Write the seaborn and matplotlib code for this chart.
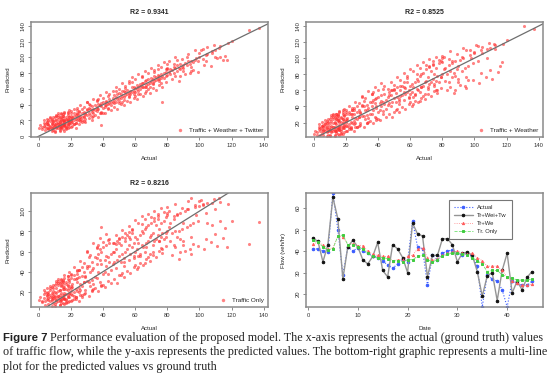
#%% importing the libraries
import pandas as pd
import seaborn as sns
import matplotlib.pyplot as plt

#%% setting the context
sns.set_style("white")
plt.rcParams['font.family'] = ['Liberation Sans', 'DejaVu Sans']

#%% scatter data (actual vs predicted, same test set for all three models)
actual = [0, 1, 2, 3, 3, 4, 4, 5, 5, 6, 6, 6, 7, 7, 7, 8, 8, 8, 8, 9, 9, 9, 9, 10, 10, 10, 2, 5, 7, 9,
          10, 11, 11, 11, 12, 12, 12, 12, 13, 13, 13, 13, 14, 14, 14, 14, 15, 15, 15, 15,
          15, 16, 16, 16, 16, 17, 17, 17, 17, 18, 18, 18, 18, 19, 19, 19, 19, 20, 20, 20,
          11, 12, 13, 14, 15, 16, 17, 18, 19, 20, 12, 13, 14, 15, 16, 17, 18, 19, 14, 16,
          20, 21, 21, 22, 22, 22, 23, 23, 24, 24, 24, 25, 25, 25, 26, 26, 27, 27, 28, 28,
          29, 29, 30, 30, 21, 23, 25, 27, 29, 22, 24, 26, 28, 30, 23,
          31, 31, 32, 32, 33, 33, 34, 34, 35, 35, 36, 36, 37, 37, 38, 38, 39, 39, 40, 40,
          41, 41, 42, 42, 43, 43, 44, 44, 45, 45, 33, 36, 39, 42, 38,
          46, 46, 47, 47, 48, 48, 49, 49, 50, 50, 51, 51, 52, 52, 53, 53, 54, 54, 55, 55,
          56, 56, 57, 57, 58, 58, 59, 59, 60, 60, 47, 50, 53, 56, 59,
          61, 61, 62, 62, 63, 63, 64, 64, 65, 65, 66, 66, 67, 67, 68, 68, 69, 69, 70, 70,
          71, 71, 72, 72, 73, 73, 74, 74, 75, 75, 76, 76, 77, 77, 78, 78, 79, 79, 80, 80,
          63, 67, 71, 75, 79,
          81, 82, 82, 83, 84, 84, 85, 86, 86, 87, 88, 88, 89, 90, 90, 91, 92, 93, 94, 95,
          96, 97, 98, 99, 100, 85, 90, 95,
          102, 104, 105, 108, 110, 112, 113, 117, 118, 120, 131, 137,
          # wider spread batch
          3, 4, 5, 6, 7, 8, 9, 10, 11, 12, 13, 14, 15, 16, 17, 18, 19, 20, 5, 8,
          10, 12, 14, 16, 18, 20, 7, 9, 11, 13, 15, 17, 19, 6, 12, 14, 16, 18, 10, 15,
          20, 21, 22, 23, 24, 25, 26, 27, 28, 29, 30, 31, 32, 33, 34, 35, 36, 37, 38, 39,
          40, 41, 42, 43, 44, 45, 22, 25, 28, 31, 34, 37, 40, 43, 24, 27, 30, 33, 36, 39,
          46, 47, 48, 49, 50, 51, 52, 53, 54, 55, 56, 57, 58, 59, 60, 61, 62, 63, 64, 65,
          66, 67, 68, 69, 70, 71, 72, 73, 74, 75, 76, 77, 78, 79, 80, 48, 52, 56, 60, 64,
          68, 72, 76, 80, 50, 58, 66, 74, 54, 62,
          81, 83, 85, 87, 89, 91, 93, 95, 97, 99, 101, 103, 105, 107, 109, 111, 113, 115, 84, 88,
          92, 96, 100, 104, 108, 86, 94, 102, 110, 116]

pred_tww = [11, 14, 9, 13, 17, 12, 15, 11, 18, 14, 10, 16, 13, 19, 12, 15, 11, 17, 21, 14, 12, 18, 10, 16, 13, 20, 12, 15, 9, 19,
            14, 17, 12, 20, 15, 11, 18, 22, 16, 13, 19, 24, 14, 17, 21, 12, 16, 19, 13, 23,
            26, 18, 15, 21, 14, 20, 17, 24, 13, 19, 22, 16, 27, 20, 18, 24, 15, 22, 19, 26,
            10, 13, 18, 12, 20, 16, 22, 14, 25, 17, 16, 10, 22, 14, 19, 12, 21, 17, 25, 13,
            21, 24, 18, 26, 20, 29, 22, 17, 25, 30, 21, 27, 23, 32, 24, 19, 29, 25, 31, 26,
            28, 22, 33, 27, 23, 10, 21, 34, 30, 16, 28, 22, 25, 35, 27,
            30, 36, 27, 34, 38, 31, 35, 29, 40, 33, 37, 32, 41, 35, 30, 39, 14, 42, 36, 44,
            40, 37, 45, 39, 41, 36, 47, 42, 44, 39, 33, 35, 38, 43, 40,
            44, 49, 46, 52, 43, 50, 54, 47, 49, 55, 48, 53, 51, 57, 50, 46, 56, 52, 53, 59,
            55, 51, 58, 54, 56, 62, 57, 53, 61, 56, 42, 45, 58, 50, 63,
            60, 65, 58, 63, 66, 60, 63, 68, 62, 67, 70, 63, 65, 71, 66, 72, 68, 63, 70, 74,
            67, 72, 76, 70, 71, 75, 73, 78, 72, 77, 74, 79, 76, 43, 80, 74, 76, 82, 78, 85,
            64, 62, 66, 70, 85,
            82, 79, 85, 84, 80, 88, 86, 83, 90, 87, 85, 92, 88, 91, 86, 93, 90, 95, 92, 96,
            94, 97, 99, 96, 100, 76, 83, 88,
            98, 103, 104, 106, 109, 112, 100, 97, 118, 121, 135, 137,
            20, 8, 22, 9, 24, 6, 25, 7, 26, 27, 8, 29, 9, 30, 10, 31, 12, 32, 18, 22,
            5, 25, 28, 7, 30, 12, 23, 8, 27, 6, 26, 9, 33, 21, 29, 10, 31, 11, 24, 28,
            29, 13, 35, 17, 33, 15, 39, 20, 37, 18, 44, 23, 40, 21, 47, 27, 45, 25, 52, 31,
            49, 29, 56, 35, 53, 33, 15, 31, 19, 41, 26, 47, 30, 51, 36, 18, 44, 24, 46, 29,
            57, 37, 63, 35, 60, 41, 67, 39, 64, 45, 70, 43, 75, 49, 72, 47, 79, 53, 76, 51,
            83, 57, 80, 55, 87, 61, 84, 59, 91, 65, 88, 63, 94, 69, 92, 58, 44, 67, 51, 75,
            60, 81, 67, 87, 42, 69, 55, 85, 61, 53,
            95, 73, 101, 70, 98, 79, 104, 83, 109, 81, 110, 91, 113, 89, 116, 99, 114, 97, 92, 76,
            101, 84, 106, 95, 108, 97, 80, 111, 100, 102]

pred_tw = [6, 10, 8, 12, 15, 9, 13, 7, 16, 11, 14, 9, 12, 18, 10, 13, 8, 15, 20, 12, 10, 17, 9, 14, 11, 19, 5, 12, 16, 21,
           12, 16, 9, 22, 14, 10, 19, 25, 15, 11, 21, 27, 13, 18, 24, 10, 15, 22, 12, 26,
           29, 17, 13, 23, 11, 21, 16, 27, 12, 20, 25, 14, 30, 22, 17, 28, 13, 24, 19, 31,
           8, 12, 20, 10, 23, 15, 26, 13, 29, 16, 14, 9, 25, 12, 21, 10, 24, 16, 28, 11,
           22, 26, 16, 30, 18, 33, 21, 14, 27, 35, 19, 31, 22, 38, 26, 15, 33, 24, 36, 27,
           32, 20, 40, 28, 23, 12, 18, 40, 33, 14, 31, 20, 27, 42, 30,
           28, 40, 24, 36, 42, 29, 38, 26, 46, 31, 40, 30, 48, 36, 27, 44, 38, 50, 33, 52,
           44, 36, 54, 40, 46, 34, 56, 43, 48, 37, 35, 45, 41, 47, 49,
           42, 52, 44, 58, 40, 54, 60, 46, 50, 62, 45, 57, 52, 64, 49, 43, 60, 53, 54, 66,
           58, 48, 63, 55, 58, 70, 60, 50, 66, 56, 54, 60, 47, 64, 52,
           58, 68, 52, 64, 70, 56, 62, 74, 60, 72, 78, 58, 64, 80, 66, 82, 70, 56, 72, 86,
           64, 76, 90, 68, 70, 84, 74, 92, 68, 80, 72, 88, 78, 60, 94, 70, 76, 96, 80, 100,
           54, 64, 62, 66, 76,
           86, 72, 88, 80, 70, 92, 84, 76, 94, 82, 78, 96, 86, 90, 74, 98, 84, 100, 88, 110,
           90, 104, 100, 94, 108, 64, 70, 76,
           96, 110, 106, 100, 113, 118, 112, 95, 118, 122, 140, 136,
           18, 4, 21, 5, 23, 3, 25, 4, 27, 29, 4, 31, 6, 33, 7, 35, 8, 36, 16, 22,
           3, 27, 31, 5, 33, 9, 20, 4, 29, 3, 28, 6, 37, 17, 31, 7, 34, 6, 24, 30,
           33, 10, 41, 13, 38, 9, 46, 15, 44, 17, 53, 14, 50, 20, 59, 22, 56, 19, 64, 26,
           60, 23, 69, 30, 65, 27, 12, 36, 16, 47, 21, 58, 25, 62, 35, 14, 52, 19, 55, 23,
           62, 31, 70, 27, 67, 35, 76, 33, 73, 39, 81, 37, 78, 43, 87, 41, 84, 47, 91, 45,
           88, 51, 95, 49, 92, 55, 99, 53, 96, 59, 102, 57, 98, 63, 103, 60, 37, 71, 45, 80,
           53, 89, 61, 95, 33, 75, 47, 93, 65, 43,
           102, 61, 109, 57, 105, 67, 113, 63, 110, 73, 117, 69, 114, 77, 119, 74, 116, 83, 99, 60,
           101, 73, 107, 81, 112, 97, 66, 115, 85, 90]

pred_t = [12, 15, 10, 18, 14, 11, 20, 13, 16, 12, 18, 14, 17, 11, 22, 15, 13, 19, 12, 16, 24, 14, 18, 13, 20, 16, 11, 17, 15, 21,
          15, 19, 12, 24, 16, 11, 21, 27, 17, 13, 22, 29, 15, 19, 26, 12, 17, 23, 14, 28,
          31, 19, 14, 25, 13, 23, 18, 30, 13, 22, 27, 16, 33, 24, 19, 30, 15, 26, 21, 34,
          10, 14, 22, 12, 25, 17, 28, 15, 32, 18, 16, 11, 27, 14, 23, 12, 26, 18, 30, 13,
          24, 28, 17, 33, 20, 37, 23, 15, 30, 38, 21, 35, 24, 42, 28, 17, 36, 26, 40, 30,
          35, 22, 44, 31, 25, 13, 20, 45, 36, 16, 34, 22, 30, 46, 33,
          30, 46, 26, 40, 50, 32, 44, 28, 55, 35, 48, 34, 58, 40, 30, 52, 84, 60, 38, 64,
          52, 40, 66, 46, 55, 38, 68, 50, 58, 42, 42, 54, 48, 56, 62,
          48, 60, 50, 68, 44, 62, 70, 52, 56, 72, 50, 66, 58, 74, 54, 46, 70, 60, 62, 76,
          66, 52, 72, 58, 64, 78, 68, 54, 74, 60, 60, 68, 50, 74, 56,
          62, 72, 56, 68, 76, 58, 66, 80, 64, 78, 82, 60, 68, 84, 70, 86, 74, 58, 76, 88,
          66, 78, 90, 70, 72, 86, 76, 92, 70, 82, 74, 88, 78, 62, 90, 72, 78, 94, 80, 96,
          56, 64, 60, 70, 74,
          84, 70, 88, 78, 66, 92, 80, 74, 96, 80, 72, 98, 82, 88, 70, 100, 84, 102, 86, 113,
          88, 104, 96, 90, 110, 64, 66, 74,
          106, 98, 88, 86, 102, 113, 90, 64, 107, 90, 67, 89,
          22, 7, 24, 8, 26, 6, 27, 8, 29, 31, 7, 32, 9, 34, 9, 36, 11, 38, 19, 25,
          6, 29, 33, 8, 36, 11, 24, 9, 31, 7, 30, 10, 40, 20, 33, 9, 37, 10, 27, 32,
          37, 12, 45, 15, 42, 11, 51, 17, 49, 19, 61, 16, 57, 22, 68, 24, 64, 21, 73, 27,
          69, 25, 77, 31, 72, 29, 13, 42, 18, 55, 23, 66, 27, 71, 41, 15, 60, 21, 63, 26,
          68, 33, 76, 29, 73, 37, 81, 35, 78, 41, 85, 39, 82, 45, 91, 43, 88, 49, 95, 47,
          92, 53, 97, 51, 94, 57, 100, 55, 97, 61, 103, 59, 99, 65, 104, 67, 39, 79, 47, 87,
          55, 93, 63, 98, 37, 81, 49, 95, 73, 45,
          100, 57, 107, 53, 103, 61, 110, 58, 106, 65, 111, 62, 108, 69, 112, 65, 109, 73, 95, 60,
          102, 67, 105, 72, 108, 97, 62, 107, 77, 83]

r2_titles = ["R2 = 0.9341", "R2 = 0.8525", "R2 = 0.8216"]
model_names = ["Traffic + Weather + Twitter", "Traffic + Weather", "Traffic Only"]
scatter_yticks = [[0, 20, 40, 60, 80, 100, 120, 140],
                  [20, 40, 60, 80, 100, 120, 140],
                  [20, 40, 60, 80, 100]]
scatter_ylims = [(-1, 145), (2, 145), (5, 118)]

#%% multi-line data
date = list(range(1, 46))
flow_actual = [41, 41, 40, 39.5, 67, 50, 29, 42, 40, 41.5, 40, 39, 37.5, 37, 35.5,
               33.5, 32, 34, 36.5, 35, 54, 42, 41, 24, 38, 36, 39, 40, 40.5, 39,
               38, 39, 37.5, 33, 14, 29, 27, 26, 22, 14, 26, 25, 24, 24, 26]
flow_tww = [46, 44.5, 35, 43, 65, 55, 27, 42, 45, 42, 36, 34, 37.5, 44, 31,
            28, 43, 41, 37, 30, 53, 48, 47, 28, 38, 38, 45.7, 45.7, 43, 35,
            39, 39.5, 38, 30.5, 19, 28.5, 30, 17, 31, 39, 20.5, 26, 22, 27.8, 30.5]
flow_tw = [43.5, 44, 43, 41, 41.5, 47, 46.5, 43, 43.5, 42.5, 42.5, 40, 38.5, 38, 37.5,
           37.5, 35.5, 36, 36, 37.5, 38, 41, 41.5, 37, 36, 36.5, 38, 39, 39.5, 40,
           39, 38.5, 39, 37, 35.5, 33, 33, 33, 31, 28, 26, 25, 24, 24, 24.5]
flow_t = [45, 44, 42, 40.5, 41, 47, 47.5, 43, 43, 42, 41, 39, 37.5, 37, 37,
          36.5, 35.5, 35.5, 35, 36, 36, 37.5, 38, 36, 35, 36, 37.5, 38.5, 39, 39,
          38.5, 38, 37, 35.5, 34, 30.5, 31, 31, 29, 28, 27.5, 26.5, 26.5, 26.5, 27]
line_names = ["Actual", "Tr+Wei+Tw", "Tr+We", "Tr. Only"]

caption_head = "Figure 7"
caption_lines = ["Performance evaluation of the proposed model. The x-axis represents the actual (ground truth) values",
                 "of traffic flow, while the y-axis represents the predicted values. The bottom-right graphic represents a multi-line",
                 "plot for the predicted values vs ground truth"]

#%% building the figure
W, H = 554, 384
fig = plt.figure(figsize=(W / 100, H / 100), dpi=100)

def px_axes(x0, y0, x1, y1):
    return fig.add_axes([x0 / W, 1 - y1 / H, (x1 - x0) / W, (y1 - y0) / H])

boxes = [(31, 22, 268, 137), (306, 22, 543, 137), (31, 193, 268, 307), (306, 193, 543, 307)]
axes = [px_axes(*b) for b in boxes]

def r_style(ax):
    for s in ax.spines.values():
        s.set_color('#8a8a8a')
        s.set_linewidth(1.1)
    ax.tick_params(direction='out', length=2.5, width=0.6, color='#777777',
                   labelsize=4.2, labelcolor='#333333', pad=1.5,
                   bottom=True, left=True)
    plt.setp(ax.get_yticklabels(), rotation=90, va='center')

df = pd.DataFrame({'Actual': actual, 'tww': pred_tww, 'tw': pred_tw, 't': pred_t})

for ax, col, title, name, yt, yl in zip(axes[:3], ['tww', 'tw', 't'], r2_titles,
                                        model_names, scatter_yticks, scatter_ylims):
    sns.scatterplot(data=df, x='Actual', y=col, ax=ax, color='#ff3030', s=5,
                    alpha=0.6, linewidth=0, label=name)
    ax.axline((0, 0), slope=1, color='#6e6e6e', lw=0.9)
    ax.set_xlim(-4.8, 142.7)
    ax.set_ylim(*yl)
    ax.set_xticks(range(0, 141, 20))
    ax.set_yticks(yt)
    ax.set_title(title, fontsize=5, fontweight='bold', pad=6)
    ax.set_xlabel('Actual', fontsize=4.3, labelpad=6)
    ax.set_ylabel('Predicted', fontsize=4.3, labelpad=7)
    ax.legend(loc='lower right', frameon=False, fontsize=4.6, markerscale=1.1,
              handletextpad=0.4, borderaxespad=0.3)
    r_style(ax)

ax = axes[3]
styles = [dict(color='#3a5cff', ls=':', lw=0.8, marker='o', ms=1.8, mec='#3a5cff'),
          dict(color='#959595', ls='-', lw=1.0, marker='o', ms=1.8, mfc='#111111', mec='#111111'),
          dict(color='#ff8080', ls=':', lw=0.6, marker='^', ms=1.6, mec='#ff5a5a', mfc='#ff5a5a'),
          dict(color='#70e070', ls='--', lw=0.6, marker='s', ms=1.4, mec='#40cc40', mfc='#40cc40')]
for series, name, st in zip([flow_actual, flow_tww, flow_tw, flow_t], line_names, styles):
    sns.lineplot(x=date, y=series, ax=ax, label=name, **st)
ax.set_xlim(-0.4, 47.2)
ax.set_ylim(14, 67)
ax.set_xticks([0, 10, 20, 30, 40])
ax.set_yticks([20, 30, 40, 50, 60])
ax.set_xlabel('Date', fontsize=4.3, labelpad=6)
ax.set_ylabel('Flow (veh/hr)', fontsize=4.3, labelpad=7)
leg = ax.legend(loc='upper right', fontsize=4.2, frameon=True, fancybox=False,
                edgecolor='#555555', handlelength=3.2, borderpad=0.8, labelspacing=0.5,
                bbox_to_anchor=(0.88, 0.96))
leg.get_frame().set_linewidth(0.8)
r_style(ax)

#%% caption
fig.text(3 / W, 1 - 338 / H, caption_head, fontsize=8.2, fontweight='bold',
         family=['Liberation Sans'], va='center', color='#222222')
for i, line in enumerate(caption_lines):
    x0 = 50 if i == 0 else 3
    fig.text(x0 / W, 1 - (338 + 14.3 * i) / H, line, fontsize=8.72,
             family=['Liberation Serif'], va='center', color='#222222')

fig.savefig('out.png', dpi=100)
